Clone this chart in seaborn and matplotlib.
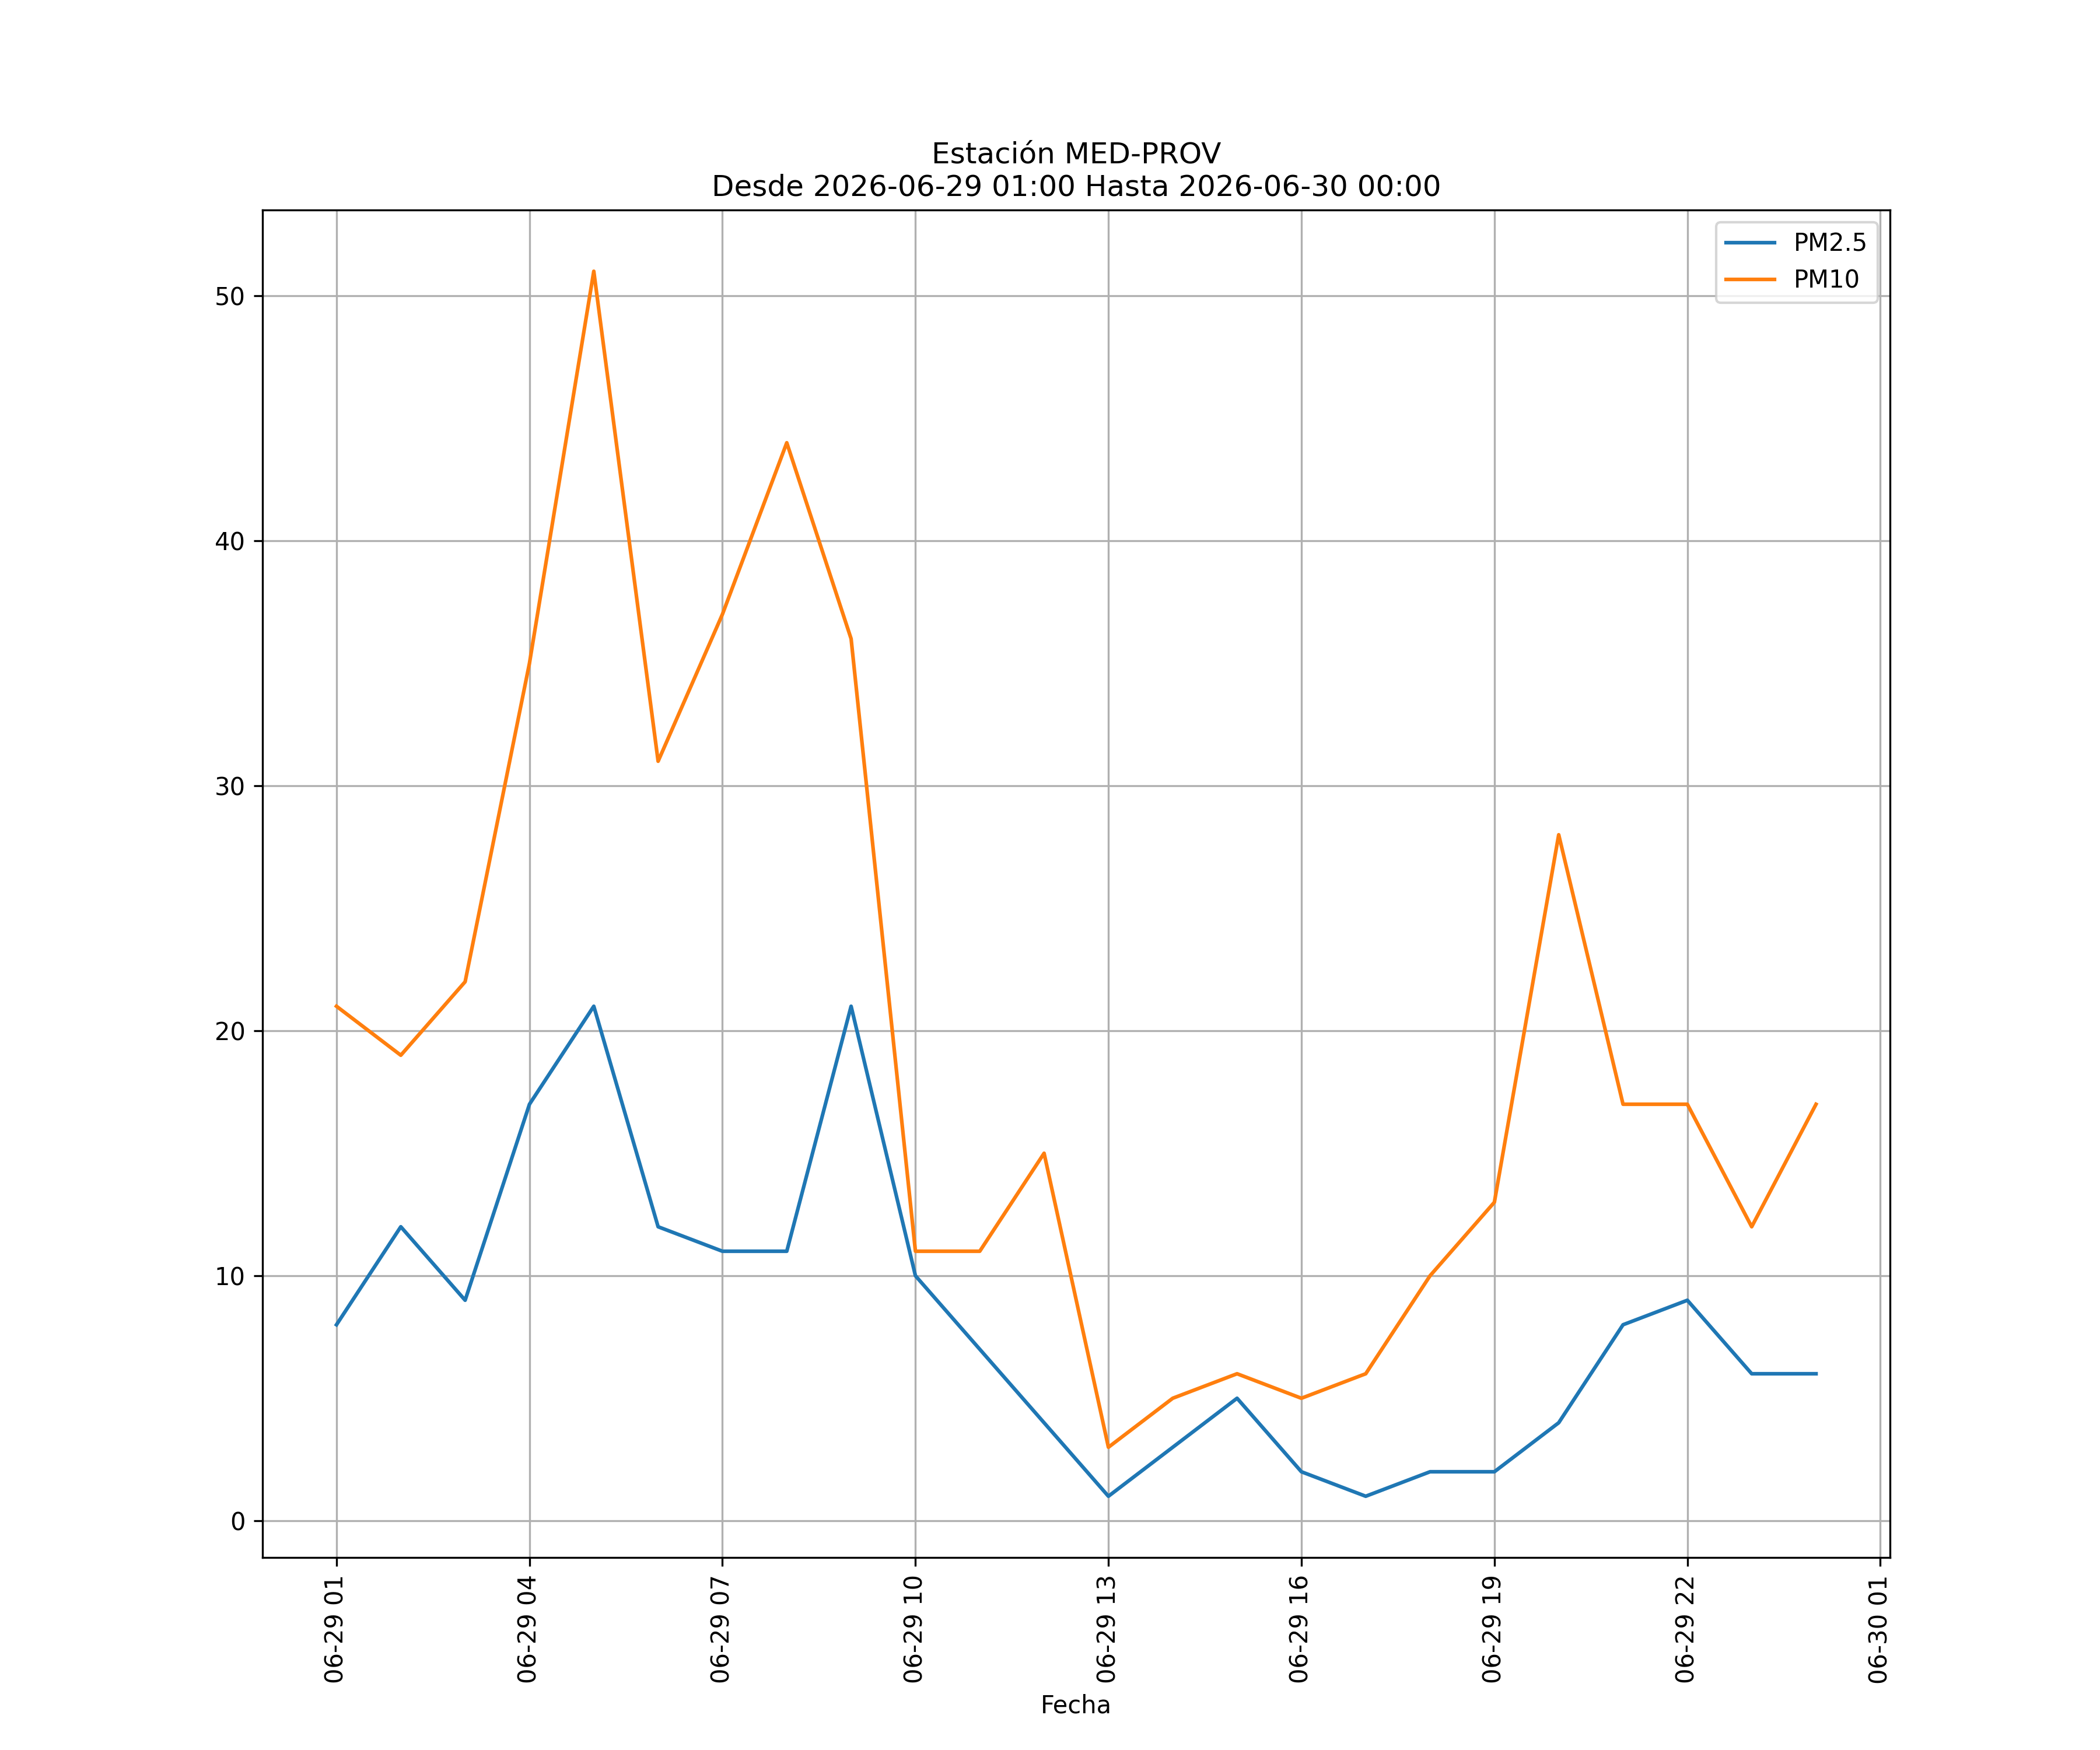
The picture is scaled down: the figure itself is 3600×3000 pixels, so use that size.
import seaborn as sns
import matplotlib.pyplot as plt
import matplotlib.dates as mdates
import pandas as pd
import numpy as np

# horas desde 2026-06-29 01:00 hasta 2026-06-30 00:00
fechas = pd.date_range("2026-06-29 01:00", "2026-06-30 00:00", freq="h")
pm25 = [8, 12, 9, 17, 21, 12, 11, 11, 21, 10, 7, 4, 1, np.nan, 5, 2, 1, 2, 2, 4, 8, 9, 6, 6]
pm10 = [21, 19, 22, 35, 51, 31, 37, 44, 36, 11, 11, 15, 3, 5, 6, 5, 6, 10, 13, 28, 17, 17, 12, 17]

df = pd.DataFrame({"Fecha": fechas, "PM2.5": pm25, "PM10": pm10})

fig, ax = plt.subplots(figsize=(12, 10), dpi=300)
sns.lineplot(data=df, x="Fecha", y="PM2.5", label="PM2.5", color="#1f77b4", ax=ax)
sns.lineplot(data=df, x="Fecha", y="PM10", label="PM10", color="#ff7f0e", ax=ax)

ax.xaxis.set_major_locator(mdates.HourLocator(byhour=range(1, 24, 3)))
ax.xaxis.set_major_formatter(mdates.DateFormatter("%m-%d %H"))
plt.setp(ax.get_xticklabels(), rotation=90)
ax.set_ylabel("")
ax.set_xlabel("Fecha")
ax.grid(True)
ax.legend(loc="upper right")
ax.set_title("Estación MED-PROV\nDesde 2026-06-29 01:00 Hasta 2026-06-30 00:00")

fig.savefig("out.png")
